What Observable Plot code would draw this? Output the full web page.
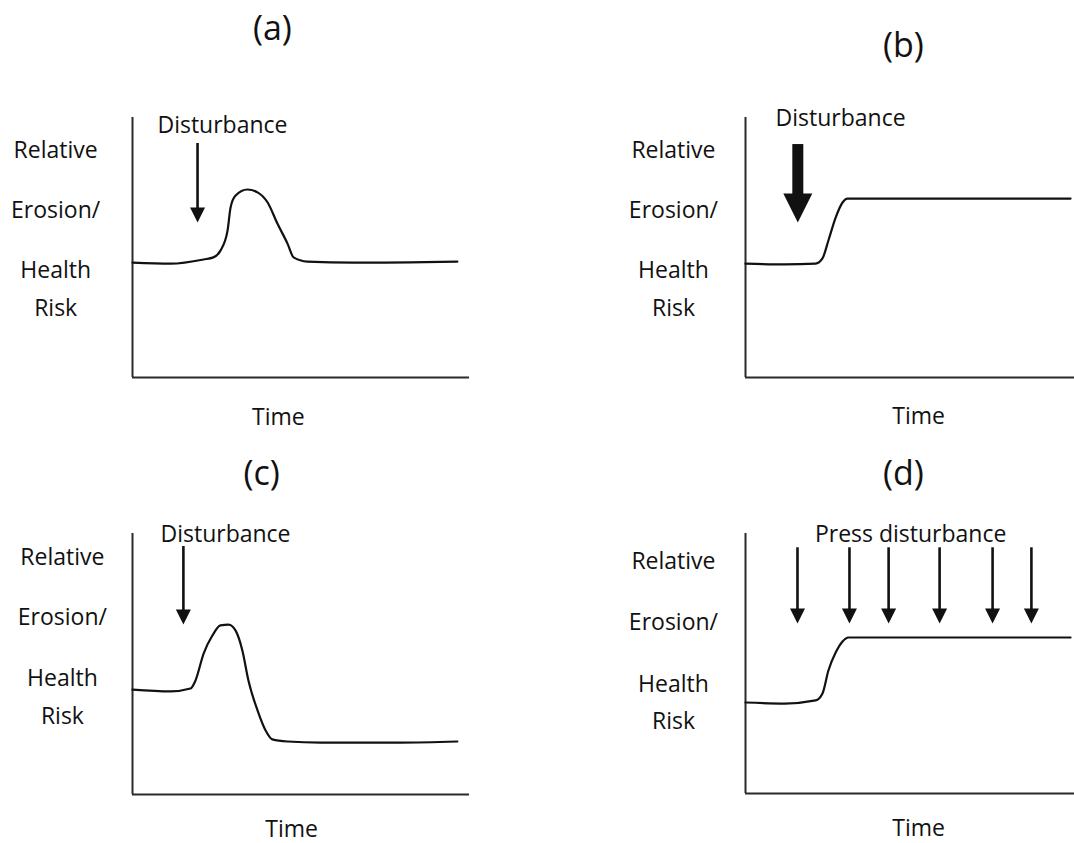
<!DOCTYPE html>
<html>
<head>
<meta charset="utf-8">
<script src="https://cdn.jsdelivr.net/npm/d3@7"></script>
<script src="https://cdn.jsdelivr.net/npm/@observablehq/plot@0.6"></script>
<style>
  body { margin: 0; background: #fff; }
  #wrap { position: relative; width: 1074px; height: 843px; overflow: hidden; background: #fff; }
  #wrap > svg { position: absolute; }
</style>
</head>
<body>
<div id="wrap"></div>
<script>
// ---------------- data ----------------
const panelTitles = ["(a)", "(b)", "(c)", "(d)"];
const yLabelLines = ["Relative", "Erosion/", "Health", "Risk"];
const xLabel = "Time";
const disturbanceLabels = ["Disturbance", "Disturbance", "Disturbance", "Press disturbance"];

// (a) pulse disturbance, return to baseline
const timeA = [0, 11.3, 21.1, 24.0, 26.1, 28.2, 29.1, 30.6, 34.1, 37.1, 40.1, 43.0, 46.0, 47.8, 51.9, 65.6, 96.4];
const riskA = [44.2, 43.8, 45.4, 46.2, 48.8, 56.5, 65.4, 70.0, 72.3, 71.2, 67.3, 59.2, 51.5, 46.2, 44.6, 44.2, 44.6];
// (b) large disturbance, shift to a new higher state
const timeB = [0, 11.9, 21.3, 23.4, 25.2, 27.4, 29.5, 31.0, 57.8, 98.8];
const riskB = [43.8, 43.5, 43.8, 45.8, 52.7, 61.5, 67.3, 68.8, 68.8, 68.8];
// (c) pulse disturbance, settling at a lower state
const timeC = [0, 11.3, 17.2, 18.7, 21.1, 23.7, 26.1, 28.5, 30.6, 32.6, 34.4, 37.1, 39.5, 41.5, 46.0, 55.8, 79.5, 96.4];
const riskC = [40.2, 39.5, 40.6, 43.7, 54.0, 60.9, 64.8, 65.1, 62.8, 55.2, 43.7, 32.2, 24.5, 21.1, 20.3, 19.9, 19.9, 20.3];
// (d) press disturbance, shift to a new higher state
const timeD = [0, 11.9, 21.3, 23.4, 25.2, 27.4, 29.5, 31.3, 57.8, 98.8];
const riskD = [35.0, 34.6, 35.8, 38.5, 47.3, 54.2, 58.5, 60.0, 60.0, 60.0];

// disturbance times
const disturbA = [19.3];
const disturbB = [15.9];
const disturbC = [15.1];
const disturbD = [15.8, 31.6, 43.5, 59.0, 75.1, 86.9];

// ---------------- layout ----------------
const layout = [
  {left: 0,   top: 0,   width: 537, height: 421, m: [117, 68, 44, 132],
   titleAt: [41.5, 130.0], labelX: -22.8, labelYs: [84.6, 61.2, 38.1, 23.8],
   timeAt: [43.3, -18.1], distAt: [26.7, 94.2], arrowTop: 90.0, arrowTip: 59.6, thick: false},
  {left: 537, top: 0,   width: 537, height: 421, m: [117, 0, 44, 208],
   titleAt: [48.0, 123.1], labelX: -21.9, labelYs: [84.6, 61.2, 38.1, 23.8],
   timeAt: [52.6, -17.7], distAt: [28.9, 96.9], arrowTop: 89.6, arrowTip: 59.6, thick: true},
  {left: 0,   top: 421, width: 537, height: 422, m: [112, 68, 49, 132],
   titleAt: [38.3, 118.4], labelX: -20.8, labelYs: [88.1, 64.8, 41.4, 27.2],
   timeAt: [47.2, -16.1], distAt: [27.6, 96.6], arrowTop: 95.0, arrowTip: 65.1, thick: false},
  {left: 537, top: 421, width: 537, height: 422, m: [112, 0, 50, 208],
   titleAt: [48.0, 118.5], labelX: -21.9, labelYs: [86.2, 62.7, 39.2, 25.0],
   timeAt: [52.6, -16.5], distAt: [50.2, 96.9], arrowTop: 94.5, arrowTip: 65.4, thick: false}
];

const series = [[timeA, riskA], [timeB, riskB], [timeC, riskC], [timeD, riskD]];
const disturbances = [disturbA, disturbB, disturbC, disturbD];

const FONT = "'Open Sans', 'DejaVu Sans', sans-serif";
const LABEL_SIZE = 23;
const TITLE_SIZE = 34;

function headSymbol(w, h) {
  return {
    draw(ctx) {
      ctx.moveTo(-w / 2, -h);
      ctx.lineTo(w / 2, -h);
      ctx.lineTo(0, 0);
      ctx.closePath();
    }
  };
}

const wrap = document.getElementById("wrap");

layout.forEach((L, k) => {
  const [times, risks] = series[k];
  const curve = times.map((t, i) => ({t, v: risks[i]}));
  const dist = disturbances[k];
  const shaftW = L.thick ? 11 : 2.6;
  const headW = L.thick ? 29 : 15;
  const headH = L.thick ? 29 : 15;

  const chart = Plot.plot({
    width: L.width,
    height: L.height,
    marginTop: L.m[0],
    marginRight: L.m[1],
    marginBottom: L.m[2],
    marginLeft: L.m[3],
    x: {domain: [0, 100], axis: null},
    y: {domain: [0, 100], axis: null},
    style: {fontFamily: FONT, background: "transparent", overflow: "visible", color: "#111"},
    marks: [
      // axes
      Plot.ruleX([0], {stroke: "#2a2a2a", strokeWidth: 2}),
      Plot.ruleY([0], {stroke: "#2a2a2a", strokeWidth: 2}),
      // response curve
      Plot.line(curve, {x: "t", y: "v", curve: "monotone-x", stroke: "#111", strokeWidth: 2.2}),
      // disturbance arrows
      Plot.ruleX(dist, {x: d => d, y1: L.arrowTop, y2: L.arrowTip, stroke: "#111",
                        strokeWidth: shaftW, insetBottom: headH - 2}),
      Plot.dot(dist, {x: d => d, y: L.arrowTip, symbol: headSymbol(headW, headH),
                      fill: "#111", stroke: "none", r: 5}),
      // disturbance label
      Plot.text([disturbanceLabels[k]], {x: L.distAt[0], y: L.distAt[1], text: d => d,
                      fontSize: LABEL_SIZE, lineAnchor: "bottom", textAnchor: "middle", fill: "#111"}),
      // y-axis label lines
      Plot.text(yLabelLines, {x: L.labelX, y: (d, i) => L.labelYs[i], text: d => d,
                      fontSize: LABEL_SIZE, lineAnchor: "bottom", textAnchor: "middle", fill: "#111"}),
      // x-axis label
      Plot.text([xLabel], {x: L.timeAt[0], y: L.timeAt[1], text: d => d,
                      fontSize: LABEL_SIZE, lineAnchor: "bottom", textAnchor: "middle", fill: "#111"}),
      // panel title
      Plot.text([panelTitles[k]], {x: L.titleAt[0], y: L.titleAt[1], text: d => d,
                      fontSize: TITLE_SIZE, lineAnchor: "bottom", textAnchor: "middle", fill: "#111"})
    ]
  });
  chart.style.left = L.left + "px";
  chart.style.top = L.top + "px";
  wrap.appendChild(chart);
});
</script>
</body>
</html>
